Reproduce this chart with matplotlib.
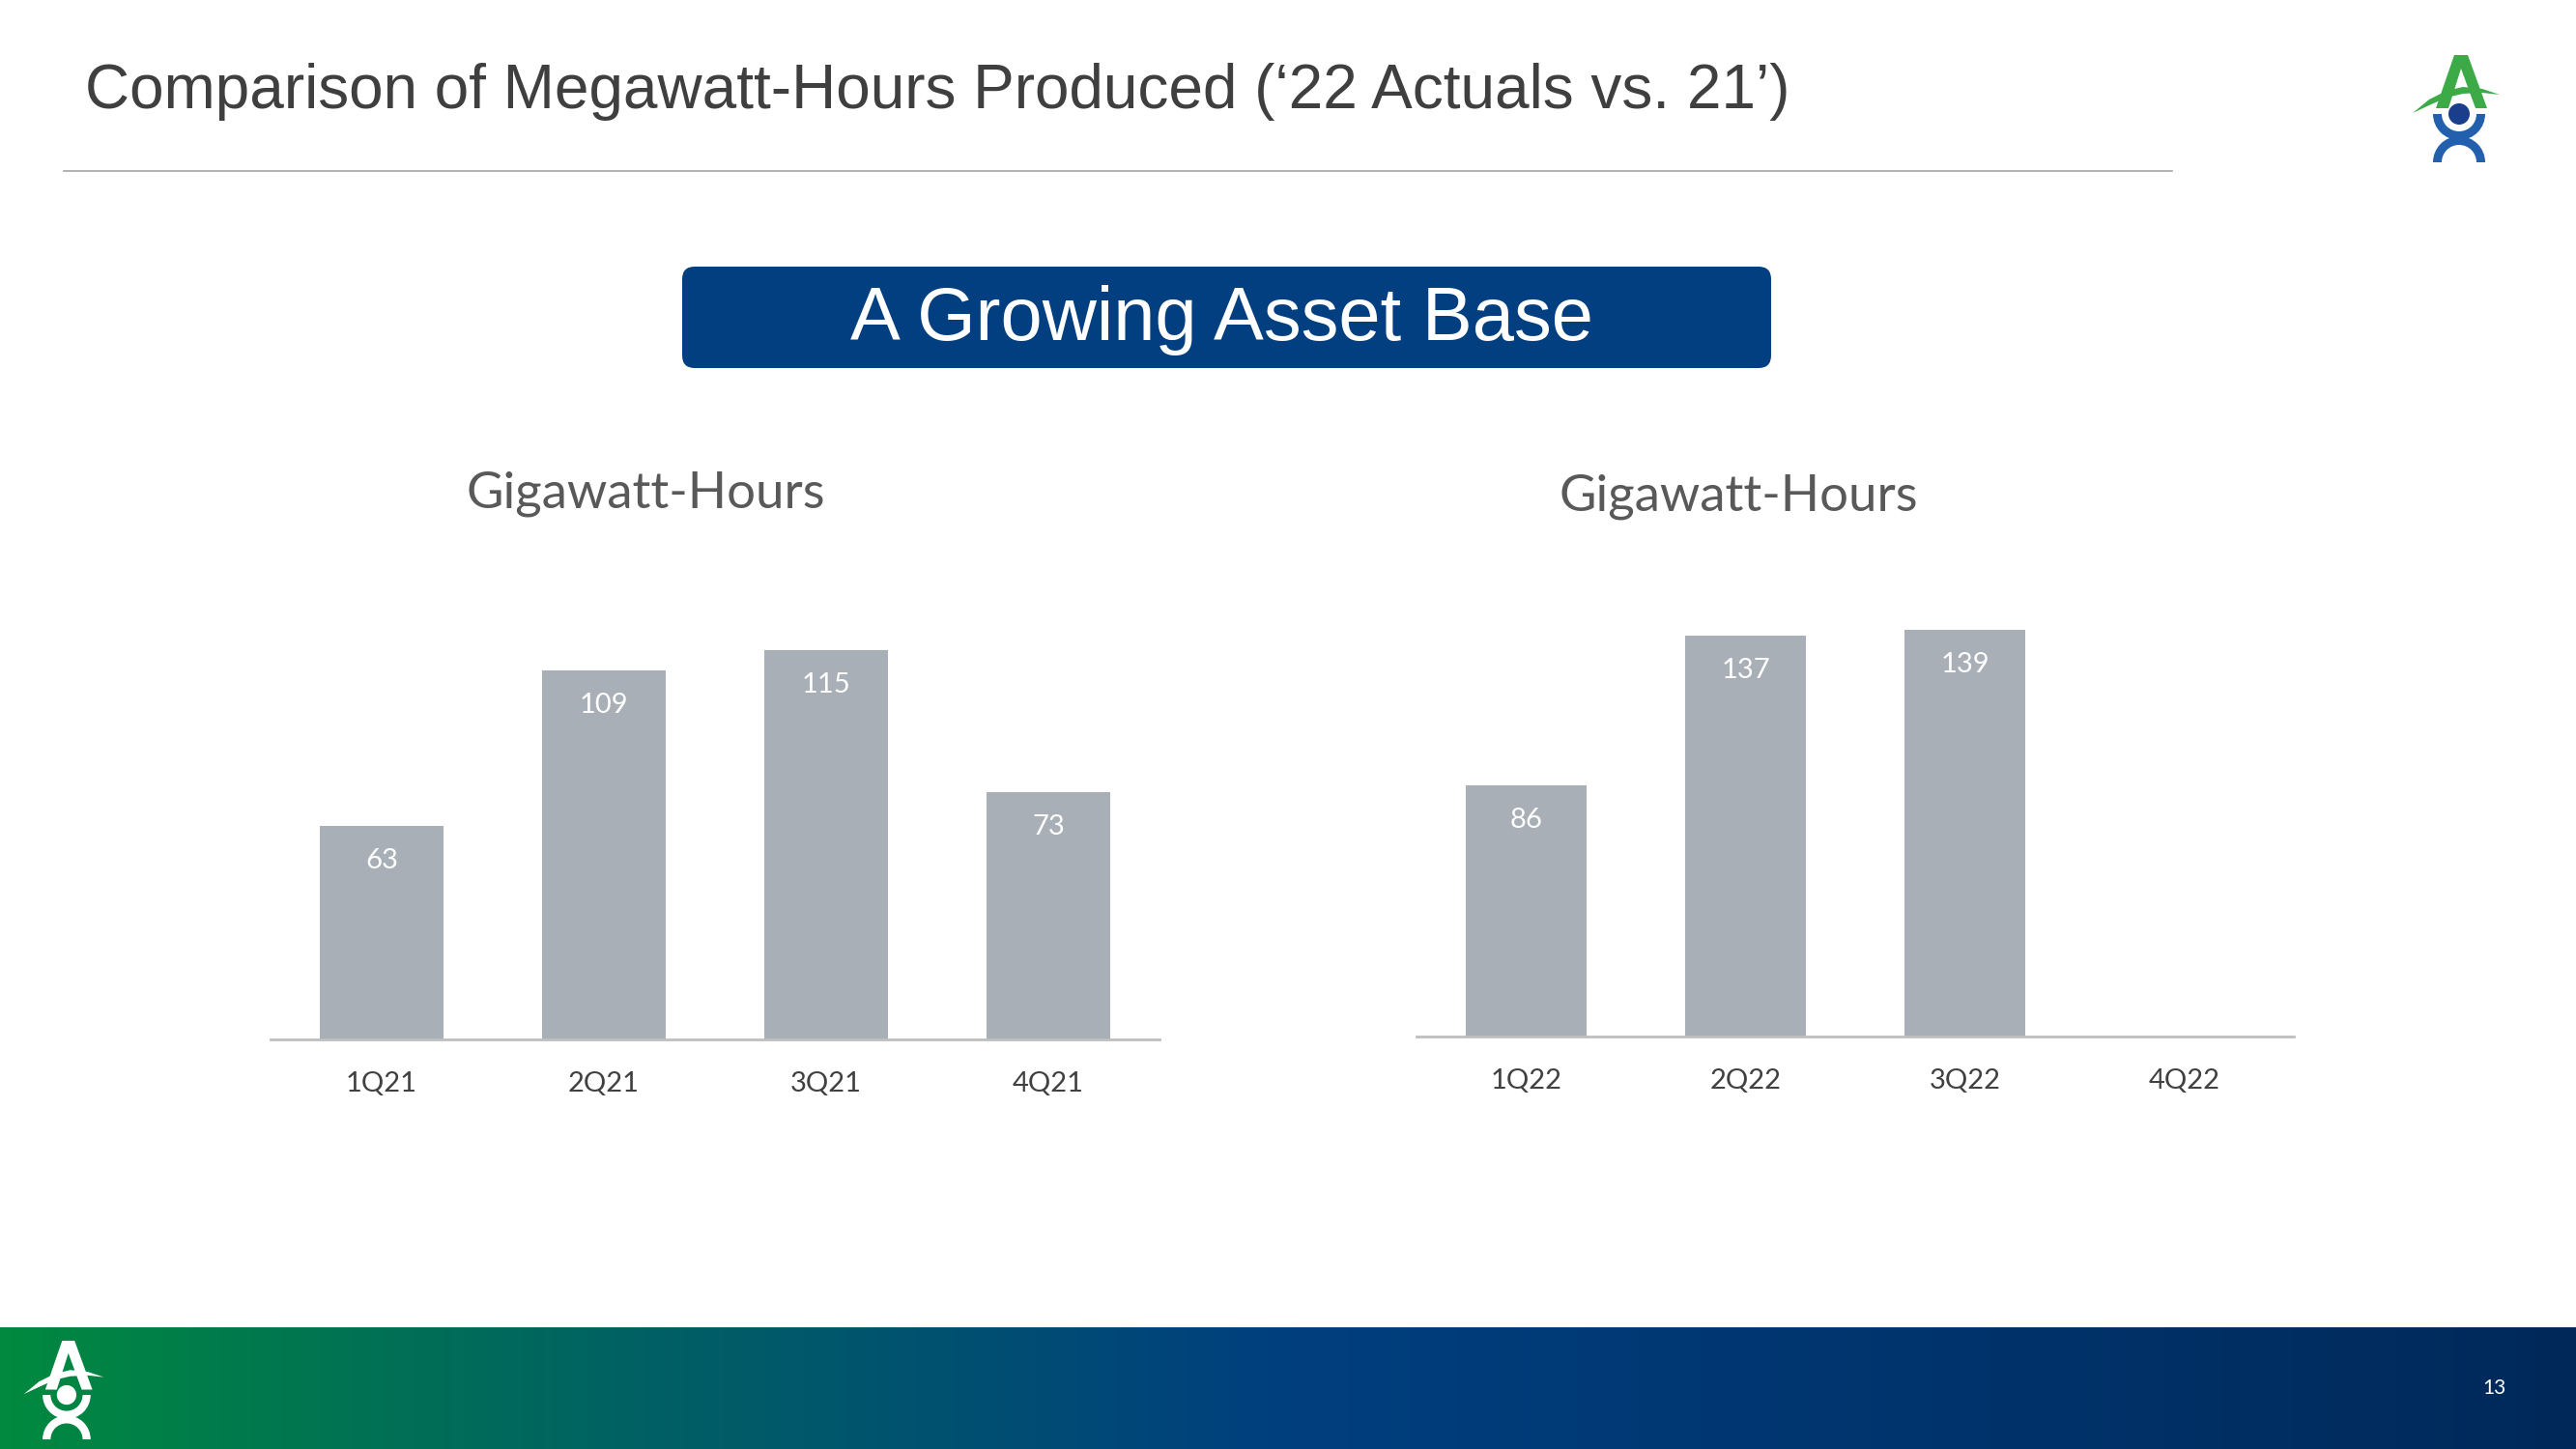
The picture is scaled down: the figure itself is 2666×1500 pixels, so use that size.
import matplotlib
matplotlib.use('Agg')
import matplotlib.pyplot as plt
import numpy as np
from matplotlib.patches import FancyBboxPatch, Circle, Wedge, Polygon
from matplotlib.colors import LinearSegmentedColormap
from matplotlib import font_manager as fm

# ---------------- data ----------------
categories_2021 = ['1Q21', '2Q21', '3Q21', '4Q21']
values_2021 = [63, 109, 115, 73]
categories_2022 = ['1Q22', '2Q22', '3Q22', '4Q22']
values_2022 = [86, 137, 139]          # 4Q22 not yet reported

title_text = "Comparison of Megawatt-Hours Produced (\u201822 Actuals vs. 21\u2019)"
banner_text = "A Growing Asset Base"
chart_title = "Gigawatt-Hours"
page_number = "13"

# ---------------- fonts ----------------
names = {f.name for f in fm.fontManager.ttflist}
title_font = 'Liberation Sans Narrow' if 'Liberation Sans Narrow' in names else 'Liberation Sans'
body_font = 'Lato' if 'Lato' in names else 'DejaVu Sans'

W, H = 2666, 1500
fig = plt.figure(figsize=(W / 100, H / 100), dpi=100)
fig.patch.set_facecolor('white')

bg = fig.add_axes([0, 0, 1, 1])
bg.set_xlim(0, W)
bg.set_ylim(H, 0)
bg.axis('off')

# Title and rule
bg.text(88, 95, title_text, fontsize=46, color='#3f3f3f', family=title_font,
        ha='left', va='center')
bg.plot([66, 2248], [177, 177], color='#a6a6a6', lw=1.2)

# Banner
banner = FancyBboxPatch((706, 276), 1127, 105, boxstyle='round,pad=0,rounding_size=13',
                        fc='#023f80', ec='none')
bg.add_patch(banner)
bg.text(1265, 332, banner_text, fontsize=56, color='white', family='Liberation Sans',
        ha='center', va='center')

# Footer gradient
cmap = LinearSegmentedColormap.from_list('foot', [(0, '#00893f'), (0.25, '#006064'),
                                                  (0.5, '#003f7f'), (1, '#00295a')])
grad = np.linspace(0, 1, 512)[None, :]
bg.imshow(grad, cmap=cmap, extent=[0, W, 1500, 1374], aspect='auto', zorder=0)
bg.set_xlim(0, W)
bg.set_ylim(H, 0)
bg.text(2581, 1437, page_number, fontsize=15, color='white', family=body_font,
        ha='center', va='center')


def logo(ox, oy, s, green, blue, head):
    def P(pts):
        return [(ox + x * s, oy + y * s) for x, y in pts]
    bg.add_patch(Polygon(P([(46, 1), (60, 1), (80, 56), (68, 56), (53, 15), (40, 56), (27, 56)]),
                         closed=True, fc=green, ec='none', zorder=3))
    upper = [(3, 61), (20, 47), (38, 38), (55, 34), (75, 36), (93, 42)]
    lower = [(93, 42), (75, 40), (55, 41), (38, 45), (20, 53), (3, 61)]
    bg.add_patch(Polygon(P(upper + lower), closed=True, fc=green, ec='none', zorder=3))
    bg.add_patch(Circle((ox + 51 * s, oy + 62 * s), 11 * s, fc=head, ec='none', zorder=3))
    bg.add_patch(Wedge((ox + 51 * s, oy + 62 * s), 27 * s, 0, 180, width=9 * s,
                       fc=blue, ec='none', zorder=3))
    bg.add_patch(Wedge((ox + 51 * s, oy + 112 * s), 27 * s, 180, 360, width=9 * s,
                       fc=blue, ec='none', zorder=3))


logo(2494, 56, 1.0, '#3baa47', '#2260ae', '#1b3e8c')
logo(22, 1387, 0.92, 'white', 'white', 'white')

# ---------------- charts ----------------
bar_color = '#a8afb6'


def fig_rect(x0, y0, x1, y1):
    return [x0 / W, 1 - y1 / H, (x1 - x0) / W, (y1 - y0) / H]


def chart(rect, cats, vals, ymax, title_xy, width):
    ax = fig.add_axes(fig_rect(*rect))
    ax.patch.set_alpha(0)
    x = np.arange(len(cats))
    bars = ax.bar(x[:len(vals)], vals, width=width, color=bar_color, zorder=2)
    for b, v in zip(bars, vals):
        ax.annotate(str(v), (b.get_x() + b.get_width() / 2, v), xytext=(0, -36),
                    textcoords='offset pixels', ha='center', va='center',
                    color='white', fontsize=21, family=body_font)
    ax.set_xlim(-0.5, len(cats) - 0.5)
    ax.set_ylim(0, ymax)
    ax.set_xticks(x)
    ax.set_xticklabels(cats, fontsize=21, color='#404040', family=body_font)
    ax.tick_params(axis='x', length=0, pad=24)
    ax.set_yticks([])
    for sp in ['top', 'left', 'right']:
        ax.spines[sp].set_visible(False)
    ax.spines['bottom'].set_color('#bfbfbf')
    ax.spines['bottom'].set_linewidth(2)
    bg.text(title_xy[0], title_xy[1], chart_title, fontsize=38, color='#595959',
            family=body_font, ha='center', va='center')
    return ax


chart((280, 620, 1200, 1076), categories_2021, values_2021, 130, (668, 511), 0.56)
chart((1466, 619, 2374, 1073), categories_2022, values_2022, 150, (1799, 514), 0.555)

fig.savefig('out.png', dpi=100, facecolor='white')
